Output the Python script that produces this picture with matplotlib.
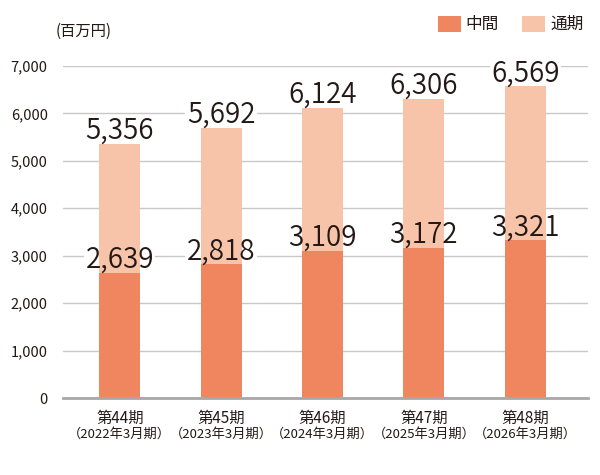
import matplotlib.pyplot as plt

plt.rcParams['font.family'] = ['Noto Sans CJK JP', 'DejaVu Sans']

# Data
periods = ['第44期', '第45期', '第46期', '第47期', '第48期']
fiscal = ['（2022年3月期）', '（2023年3月期）', '（2024年3月期）', '（2025年3月期）', '（2026年3月期）']
interim = [2639, 2818, 3109, 3172, 3321]
full_year = [5356, 5692, 6124, 6306, 6569]

dark_c = '#EF8660'
light_c = '#F8C4A9'
grid_c = '#C8C8C8'
text_c = '#231815'

fig = plt.figure(figsize=(6, 4.75), dpi=100)
ax = fig.add_axes([0.105, 0.1621, 0.875, 0.699])

x = list(range(len(periods)))
w = 0.405
ax.bar(x, full_year, width=w, color=light_c, zorder=3)
ax.bar(x, interim, width=w, color=dark_c, zorder=3)

ax.set_ylim(0, 7000)
ax.set_xlim(-0.56, 4.62)
ax.set_yticks(range(0, 7001, 1000))
ax.set_yticklabels([f'{v:,}' for v in range(0, 7001, 1000)], fontsize=10.5, color=text_c)
ax.tick_params(axis='y', length=0, pad=11)
ax.tick_params(axis='x', length=0, pad=0)
ax.set_xticks(x)
ax.set_xticklabels([])
ax.grid(axis='y', color=grid_c, linewidth=1, zorder=0)
for s in ['top', 'right', 'left']:
    ax.spines[s].set_visible(False)
ax.spines['bottom'].set_color('#A8A8A8')
ax.spines['bottom'].set_linewidth(2)
ax.spines['bottom'].set_zorder(5)

# Value labels: white box hides gridline, text sits over bars
for vals in (interim, full_year):
    for xi, v in zip(x, vals):
        ax.annotate(f'{v:,}', (xi, v), xytext=(0, 3.5), textcoords='offset points',
                    ha='center', va='baseline', fontsize=20, fontweight=350,
                    color='none',
                    bbox=dict(boxstyle='square,pad=0.05', fc='white', ec='none'),
                    zorder=2)
        ax.annotate(f'{v:,}', (xi, v), xytext=(0, 3.5), textcoords='offset points',
                    ha='center', va='baseline', fontsize=20, fontweight=350,
                    color=text_c, zorder=6)

# Category labels
for xi, p, f in zip(x, periods, fiscal):
    ax.annotate(p, (xi, 0), xytext=(0, -14.5), textcoords='offset points',
                ha='center', va='center', fontsize=11, color=text_c, annotation_clip=False)
    ax.annotate(f, (xi, 0), xytext=(0, -26), textcoords='offset points',
                ha='center', va='center', fontsize=9.5, color=text_c, annotation_clip=False)

# Unit label
fig.text(0.092, 0.934, '(百万円)', fontsize=11, color=text_c, ha='left', va='center')

# Legend
fig.patches.append(plt.Rectangle((0.730, 0.9326), 0.0383, 0.0337, transform=fig.transFigure,
                                 facecolor=dark_c, edgecolor='none'))
fig.text(0.775, 0.9495, '中間', fontsize=12, color=text_c, ha='left', va='center')
fig.patches.append(plt.Rectangle((0.870, 0.9326), 0.0383, 0.0337, transform=fig.transFigure,
                                 facecolor=light_c, edgecolor='none'))
fig.text(0.9167, 0.9495, '通期', fontsize=12, color=text_c, ha='left', va='center')

fig.savefig('out.png', dpi=100, facecolor='white')
